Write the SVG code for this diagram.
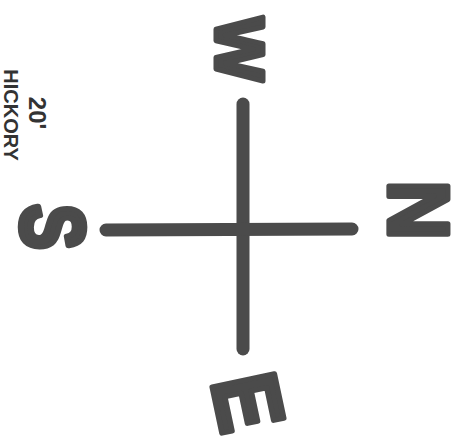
<svg xmlns="http://www.w3.org/2000/svg" width="474" height="444" viewBox="0 0 474 444">
<style>
.ln{stroke:#4b4b4b;stroke-width:13;stroke-linecap:round;fill:none}
.big{font-family:"Liberation Sans",Arial,sans-serif;font-weight:bold;fill:#4b4b4b;stroke:#4b4b4b;stroke-width:5;stroke-linejoin:round;text-anchor:middle}
.sm{font-family:"Liberation Sans",Arial,sans-serif;font-weight:bold;fill:#333;text-anchor:middle}
</style>
<rect width="474" height="444" fill="#fff"/>
<g id="connectors">
<line class="ln" x1="243" y1="104" x2="243" y2="349"/>
<line class="ln" x1="106" y1="230" x2="352" y2="229"/>
</g>
<g id="west">
<text class="big" font-size="68" transform="translate(240,49) rotate(90)" x="0" y="24">W</text>
</g>
<g id="north">
<text class="big" font-size="82" transform="translate(419,210) rotate(90) scale(1,1.05)" x="0" y="29">N</text>
</g>
<g id="east">
<text class="big" font-size="84" transform="translate(249,402) rotate(78) scale(1,1.1)" x="0" y="30">E</text>
</g>
<g id="south">
<text class="big" font-size="68" transform="translate(53,227) rotate(90) scale(1,1.3)" x="0" y="24">S</text>
</g>
<g id="label">
<text class="sm" font-size="20" transform="translate(11,115) rotate(90)" x="0" y="7">HICKORY</text>
<text class="sm" font-size="24" transform="translate(37,113) rotate(90)" x="0" y="8">20'</text>
</g>
</svg>
